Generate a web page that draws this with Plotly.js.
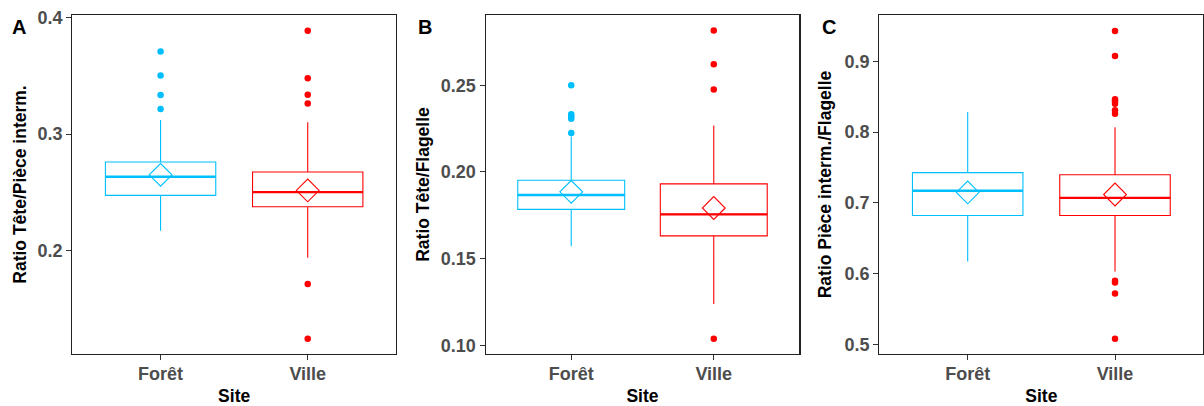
<!DOCTYPE html>
<html>
<head>
<meta charset="utf-8">
<script src="https://cdn.plot.ly/plotly-3.0.1.min.js"></script>
<style>html,body{margin:0;padding:0;background:#fff;}#chart{width:1204px;height:406px;}</style>
</head>
<body>
<div id="chart"></div>
<script>
// ---- data ----
const sites = ["Forêt", "Ville"];
const siteColors = ["#00BFFF", "#FF0000"];

// Panel A : Ratio Tête/Pièce interm.
const A_q1 = [0.2474, 0.2377];
const A_median = [0.2634, 0.2503];
const A_q3 = [0.2760, 0.2674];
const A_lower = [0.2171, 0.1940];
const A_upper = [0.3120, 0.3100];
const A_mean = [0.2650, 0.2517];
const A_outForet = [0.3708, 0.3502, 0.3334, 0.3214];
const A_outVille = [0.3885, 0.3477, 0.3337, 0.3262, 0.1715, 0.1246];

// Panel B : Ratio Tête/Flagelle
const B_q1 = [0.1784, 0.1631];
const B_median = [0.1867, 0.1755];
const B_q3 = [0.1952, 0.1931];
const B_lower = [0.1571, 0.1238];
const B_upper = [0.2204, 0.2268];
const B_mean = [0.1885, 0.1792];
const B_outForet = [0.2500, 0.2333, 0.2319, 0.2306, 0.2225];
const B_outVille = [0.2815, 0.2621, 0.2475, 0.1038];

// Panel C : Ratio Pièce interm./Flagelle
const C_q1 = [0.6820, 0.6820];
const C_median = [0.7170, 0.7070];
const C_q3 = [0.7426, 0.7396];
const C_lower = [0.6170, 0.6028];
const C_upper = [0.8283, 0.8066];
const C_mean = [0.7146, 0.7117];
const C_outForet = [];
const C_outVille = [0.9428, 0.9075, 0.8462, 0.8434, 0.8401, 0.8307, 0.8260, 0.5897, 0.5874, 0.5717, 0.5080];

const panels = [
  {letter: "A", title: "Ratio Tête/Pièce interm.", q1: A_q1, med: A_median, q3: A_q3, lo: A_lower, hi: A_upper, mean: A_mean, out: [A_outForet, A_outVille],
   range: [0.1115, 0.402], dtick: 0.1, fmt: ".1f", dom: [72.3, 396], standoff: 6},
  {letter: "B", title: "Ratio Tête/Flagelle", q1: B_q1, med: B_median, q3: B_q3, lo: B_lower, hi: B_upper, mean: B_mean, out: [B_outForet, B_outVille],
   range: [0.095, 0.2905], dtick: 0.05, fmt: ".2f", dom: [485.7, 799.3], standoff: 6},
  {letter: "C", title: "Ratio Pièce interm./Flagelle", q1: C_q1, med: C_median, q3: C_q3, lo: C_lower, hi: C_upper, mean: C_mean, out: [C_outForet, C_outVille],
   range: [0.4863, 0.9654], dtick: 0.1, fmt: ".1f", dom: [879.3, 1203.4], standoff: 8}
];

// ---- build ----
const W = 1204, H = 406;
const BOXW = 0.75;
const traces = [];
const layout = {
  width: W, height: H,
  margin: {l: 0, r: 0, t: 0, b: 0},
  paper_bgcolor: "#fff", plot_bgcolor: "#fff",
  showlegend: false,
  font: {family: "Liberation Sans, Arial, sans-serif"},
  annotations: []
};
const yDom = [(H - 354) / H, (H - 15) / H];
const tickFont = {family: "Liberation Sans, Arial, sans-serif", size: 18, color: "#4D4D4D", weight: "bold"};
const titleFont = {family: "Liberation Sans, Arial, sans-serif", size: 17.5, color: "#000", weight: "bold"};

panels.forEach((p, k) => {
  const sfx = k === 0 ? "" : String(k + 1);
  const xa = "x" + sfx, ya = "y" + sfx;
  sites.forEach((s, i) => {
    traces.push({
      type: "box", xaxis: xa, yaxis: ya, x: [i],
      q1: [p.q1[i]], median: [p.med[i]], q3: [p.q3[i]],
      lowerfence: [p.lo[i]], upperfence: [p.hi[i]],
      width: BOXW, whiskerwidth: 0, boxpoints: false,
      fillcolor: "rgba(255,255,255,0)",
      line: {color: siteColors[i], width: 1.1},
      name: s, hoverinfo: "skip"
    });
    // thicker median line
    traces.push({
      type: "scatter", mode: "lines", xaxis: xa, yaxis: ya,
      x: [i - BOXW / 2, i + BOXW / 2], y: [p.med[i], p.med[i]],
      line: {color: siteColors[i], width: 2.3}, hoverinfo: "skip"
    });
    // outliers
    if (p.out[i].length) {
      traces.push({
        type: "scatter", mode: "markers", xaxis: xa, yaxis: ya,
        x: p.out[i].map(() => i), y: p.out[i],
        marker: {color: siteColors[i], size: 6.5, line: {width: 0}}, hoverinfo: "skip"
      });
    }
    // mean diamond
    traces.push({
      type: "scatter", mode: "markers", xaxis: xa, yaxis: ya,
      x: [i], y: [p.mean[i]],
      marker: {symbol: "diamond-open", color: siteColors[i], size: 17.5, line: {width: 1.1, color: siteColors[i]}},
      hoverinfo: "skip"
    });
  });

  layout["xaxis" + sfx] = {
    domain: [p.dom[0] / W, p.dom[1] / W], anchor: ya,
    range: [-0.6, 1.6], tickvals: [0, 1], ticktext: sites,
    showline: true, mirror: true, linecolor: "#222", linewidth: 1.2,
    ticks: "outside", ticklen: 5, tickcolor: "#333", tickwidth: 1,
    ticklabelstandoff: -2,
    showgrid: false, zeroline: false, tickfont: tickFont,
    title: {text: "Site", font: titleFont, standoff: 7}
  };
  layout["yaxis" + sfx] = {
    domain: yDom, anchor: xa,
    range: p.range, dtick: p.dtick, tick0: 0, tickformat: p.fmt,
    showline: true, mirror: true, linecolor: "#222", linewidth: 1.2,
    ticks: "outside", ticklen: 5, tickcolor: "#333", tickwidth: 1,
    showgrid: false, zeroline: false, tickfont: tickFont,
    title: {text: p.title, font: titleFont, standoff: p.standoff}
  };
});

// panel letters
const letterX = [10, 416, 820];
panels.forEach((p, k) => {
  layout.annotations.push({
    text: p.letter, xref: "paper", yref: "paper",
    x: letterX[k] / W, y: 1 - 14 / H, xanchor: "left", yanchor: "top",
    showarrow: false,
    font: {family: "Liberation Sans, Arial, sans-serif", size: 20, color: "#000", weight: "bold"}
  });
});

Plotly.newPlot("chart", traces, layout, {displayModeBar: false, staticPlot: true});
</script>
</body>
</html>
